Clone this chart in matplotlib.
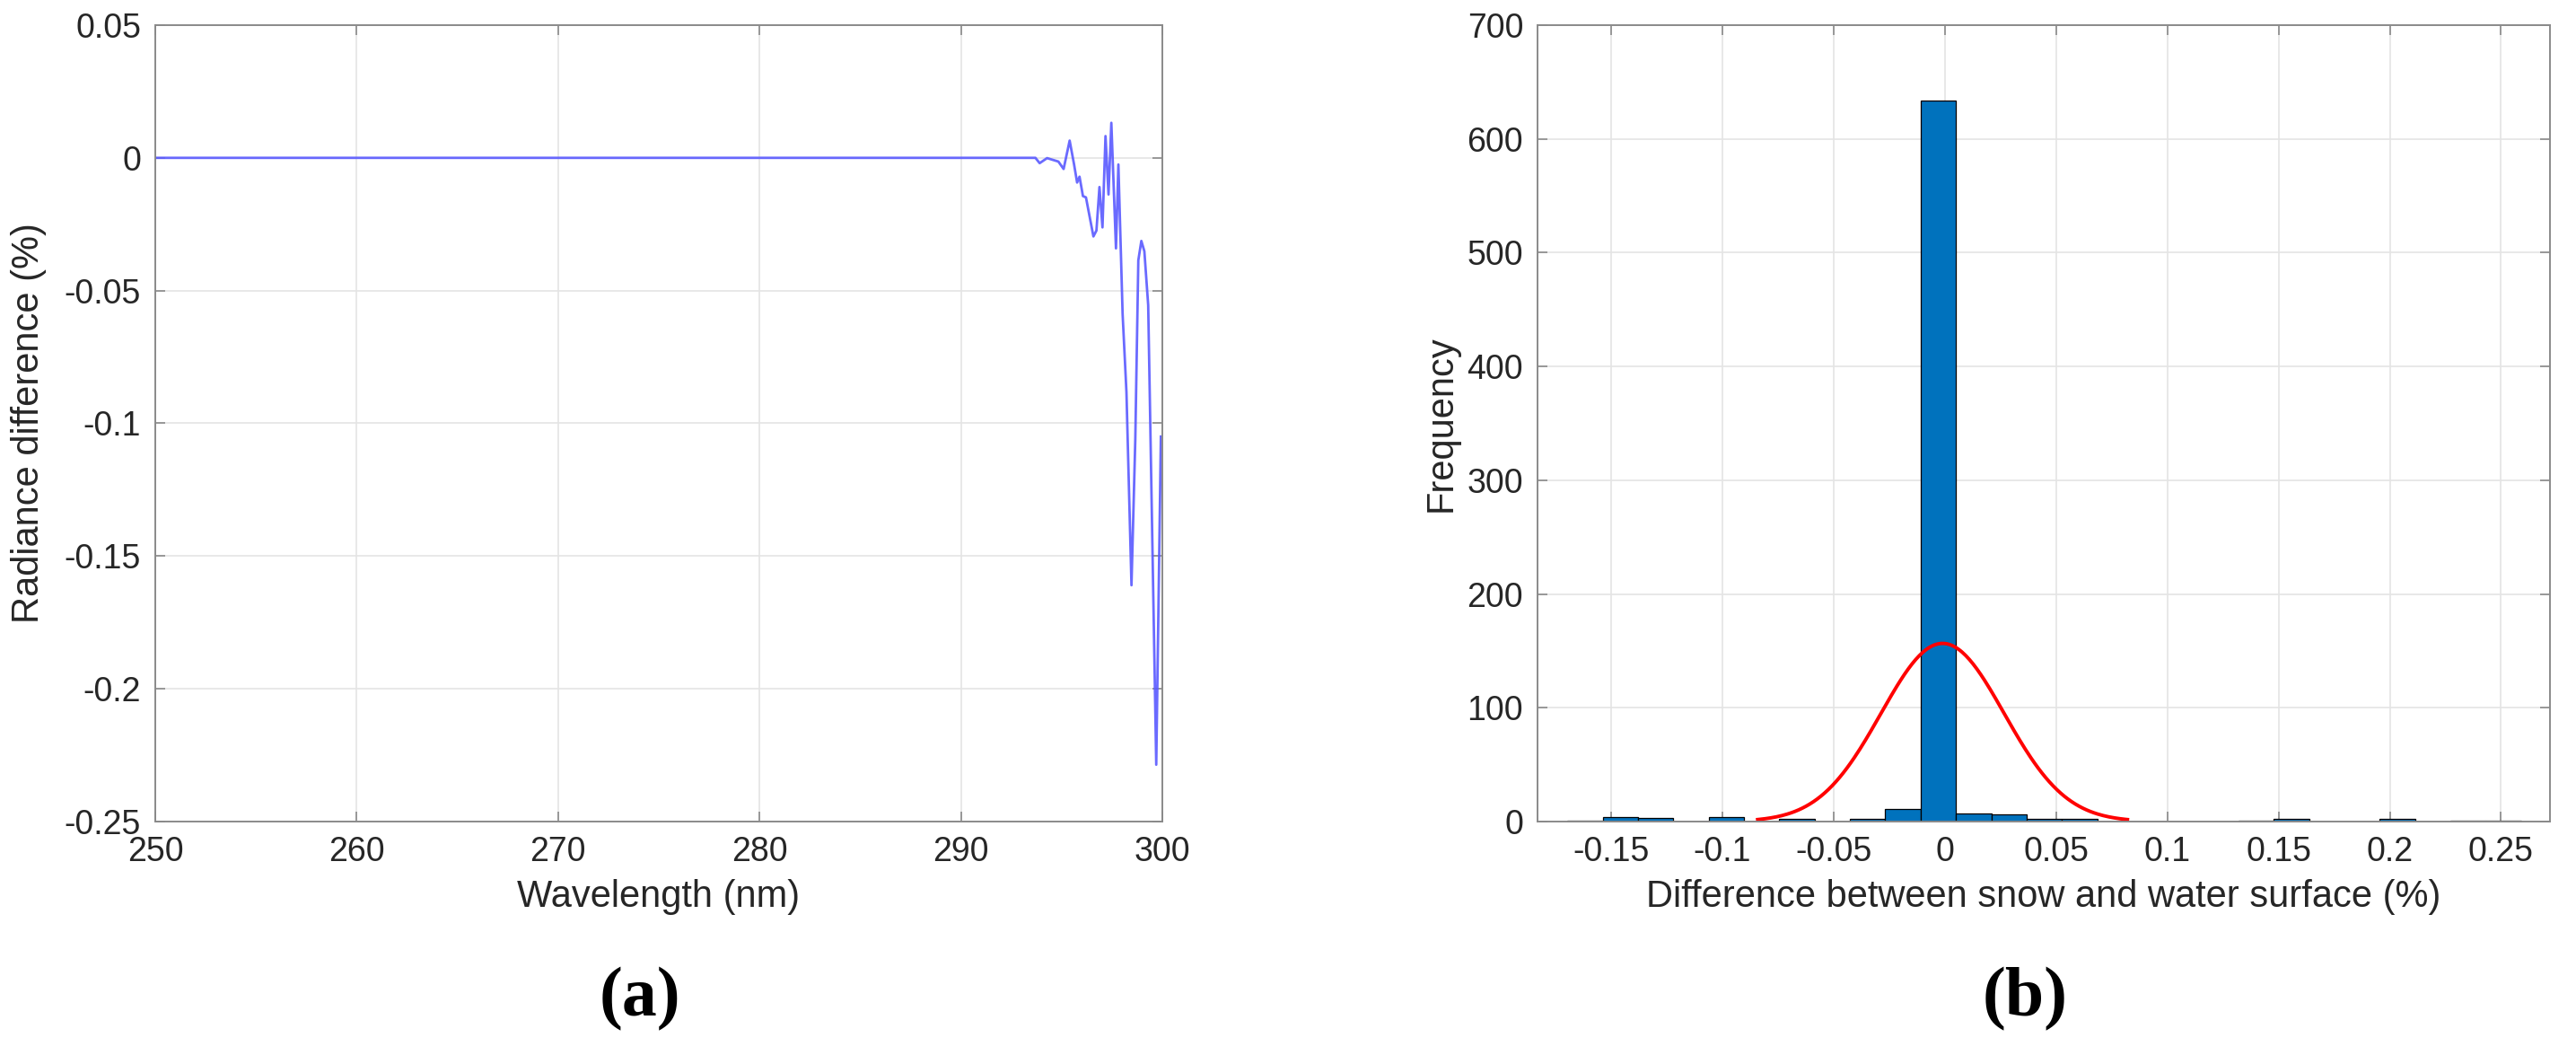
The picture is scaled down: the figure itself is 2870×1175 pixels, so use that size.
#!/usr/bin/env python3
# -*- coding: utf-8 -*-
"""
Two panel figure: (a) radiance difference vs wavelength,
(b) histogram of snow/water surface differences with normal fit.
"""

import numpy as np
import matplotlib
matplotlib.use('Agg')
import matplotlib.pyplot as plt

# ---- data ----
# panel (a): radiance difference (%) at wavelength (nm)
wavelength = [250.0, 290.0, 293.7, 293.91, 294.28, 294.84, 295.10, 295.40,
              295.62, 295.77, 295.89, 296.06, 296.21, 296.58, 296.73, 296.88,
              297.03, 297.18, 297.33, 297.47, 297.70, 297.82, 298.03, 298.22,
              298.47, 298.66, 298.81, 298.96, 299.11, 299.30, 299.70, 299.93]
radiance_diff = [0.0, 0.0, 0.0, -0.0020, -0.0001, -0.0014, -0.0042, 0.0065,
                 -0.0025, -0.0093, -0.0071, -0.0144, -0.0149, -0.0296, -0.0274,
                 -0.0110, -0.0262, 0.0082, -0.0138, 0.0132, -0.0341, -0.0025,
                 -0.0589, -0.0882, -0.1610, -0.1060, -0.0386, -0.0313, -0.0352,
                 -0.0555, -0.2286, -0.1050]

# panel (b): histogram bin edges and counts
bin_edges = [-0.1696, -0.1537, -0.1379, -0.1220, -0.1061, -0.0903, -0.0744,
             -0.0585, -0.0426, -0.0268, -0.0109, 0.0050, 0.0209, 0.0367,
             0.0526, 0.0685, 0.0843, 0.1002, 0.1161, 0.1319, 0.1478, 0.1637,
             0.1796, 0.1954, 0.2113, 0.2272, 0.2430, 0.2589]
counts = [1, 4, 3, 0, 4, 0, 2, 0, 2, 11, 634, 7, 6, 2, 2, 0, 0, 0, 0, 1, 2,
          0, 0, 2, 0, 1, 1]
# normal fit (histfit) parameters
fit_mean = -0.0010
fit_std = 0.0277

# tick labels, written like the original
a_xticks = [250, 260, 270, 280, 290, 300]
a_yticks = [0.05, 0, -0.05, -0.1, -0.15, -0.2, -0.25]
a_yticklabels = ['0.05', '0', '-0.05', '-0.1', '-0.15', '-0.2', '-0.25']
b_xticks = [-0.15, -0.1, -0.05, 0, 0.05, 0.1, 0.15, 0.2, 0.25]
b_xticklabels = ['-0.15', '-0.1', '-0.05', '0', '0.05', '0.1', '0.15',
                 '0.2', '0.25']
b_yticks = [0, 100, 200, 300, 400, 500, 600, 700]

plt.rcParams['font.family'] = ['Liberation Sans', 'DejaVu Sans']
text_col = '#262626'
box_col = '#8a8a8a'
grid_col = '#e4e4e4'

fig = plt.figure(figsize=(28.7, 11.75), dpi=100)
ax1 = fig.add_axes([0.0603, 0.2213, 0.3909, 0.7549])
ax2 = fig.add_axes([0.5969, 0.2213, 0.3930, 0.7549])


def matlab_style(ax):
    # grey box, inward ticks on all sides, light grid
    for s in ax.spines.values():
        s.set_color(box_col)
        s.set_linewidth(1.4)
    ax.tick_params(direction='in', length=8, width=1.2, color=box_col,
                   labelsize=27, labelcolor=text_col, pad=11.5,
                   top=True, right=True)
    ax.grid(True, color=grid_col, linewidth=1.2)
    ax.set_axisbelow(True)


# ---- panel (a) ----
ax1.plot(wavelength, radiance_diff, color='#5a5aff', linewidth=2.0,
         alpha=0.9)
ax1.set_xlim(250, 300)
ax1.set_ylim(-0.25, 0.05)
ax1.set_xticks(a_xticks)
ax1.set_yticks(a_yticks)
ax1.set_yticklabels(a_yticklabels)
matlab_style(ax1)
ax1.set_xlabel('Wavelength (nm)', fontsize=30, color=text_col)
ax1.set_ylabel('Radiance difference (%)', fontsize=30, color=text_col)
ax1.xaxis.set_label_coords(0.5, -0.072)
ax1.yaxis.set_label_coords(-0.108, 0.5)

# ---- panel (b) ----
edges = np.array(bin_edges)
ax2.bar(edges[:-1], counts, width=np.diff(edges), align='edge',
        color='#0072BD', edgecolor='black', linewidth=0.9)
# fitted normal curve over mean +/- 3 std, scaled to the counts
xs = np.linspace(fit_mean - 3 * fit_std, fit_mean + 3 * fit_std, 200)
scale = sum(counts) * np.mean(np.diff(edges))
ys = scale / (fit_std * np.sqrt(2 * np.pi)) * \
    np.exp(-0.5 * ((xs - fit_mean) / fit_std) ** 2)
ax2.plot(xs, ys, color='red', linewidth=2.8)
ax2.set_xlim(-0.183, 0.272)
ax2.set_ylim(0, 700)
ax2.set_xticks(b_xticks)
ax2.set_xticklabels(b_xticklabels)
ax2.set_yticks(b_yticks)
matlab_style(ax2)
ax2.set_xlabel('Difference between snow and water surface (%)', fontsize=30,
               color=text_col)
ax2.set_ylabel('Frequency', fontsize=30, color=text_col)
ax2.xaxis.set_label_coords(0.5, -0.072)
ax2.yaxis.set_label_coords(-0.078, 0.5)

# panel letters
fig.text(0.2484, 0.0528, '(a)', fontsize=56, fontweight='bold',
         family='Liberation Serif', ha='center', va='center')
fig.text(0.786, 0.0528, '(b)', fontsize=56, fontweight='bold',
         family='Liberation Serif', ha='center', va='center')

fig.savefig('out.png', dpi=100)
